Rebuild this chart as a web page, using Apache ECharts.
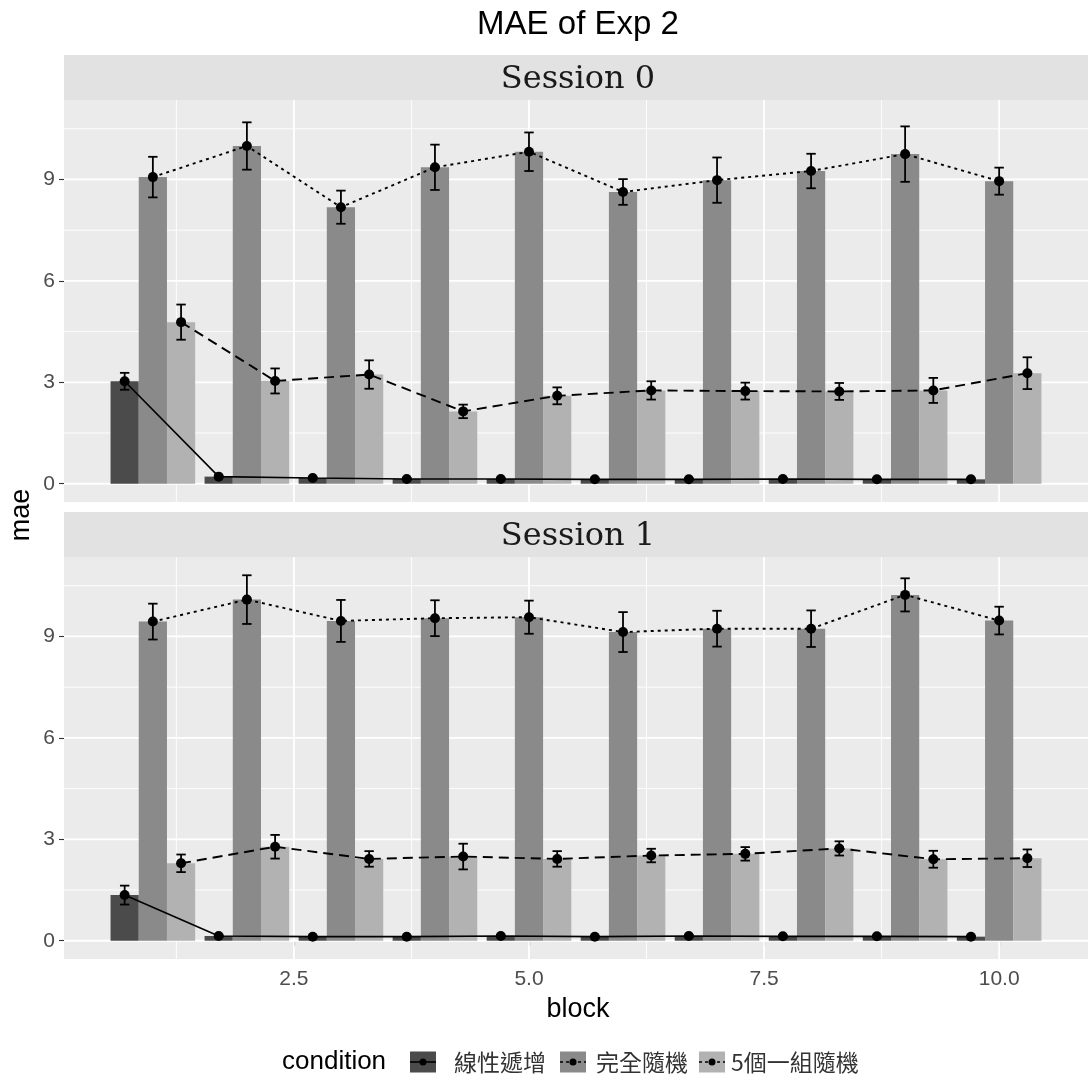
<!DOCTYPE html>
<html>
<head>
<meta charset="utf-8">
<script src="https://cdn.jsdelivr.net/npm/echarts@6/dist/echarts.min.js"></script>
<style>
html, body { margin: 0; padding: 0; background: #ffffff; }
#chart { width: 1088px; height: 1085px; }
</style>
</head>
<body>
<div id="chart"></div>
<script>
// ---- data ----
const blocks = [1, 2, 3, 4, 5, 6, 7, 8, 9, 10];
const conditions = ['線性遞增', '完全隨機', '5個一組隨機'];
const sessions = ['Session 0', 'Session 1'];

// Session 0
const s0Linear   = [3.03, 0.21, 0.17, 0.14, 0.14, 0.13, 0.13, 0.14, 0.13, 0.13];
const s0LinearSe = [0.25, 0.02, 0.02, 0.02, 0.02, 0.02, 0.02, 0.02, 0.02, 0.02];
const s0Random   = [9.07, 9.99, 8.18, 9.36, 9.82, 8.63, 8.98, 9.25, 9.75, 8.95];
const s0RandomSe = [0.60, 0.70, 0.49, 0.67, 0.57, 0.38, 0.67, 0.51, 0.82, 0.40];
const s0Group    = [4.78, 3.04, 3.23, 2.14, 2.60, 2.76, 2.74, 2.73, 2.76, 3.27];
const s0GroupSe  = [0.52, 0.37, 0.42, 0.20, 0.25, 0.27, 0.25, 0.25, 0.37, 0.47];

// Session 1
const s1Linear   = [1.35, 0.14, 0.12, 0.12, 0.14, 0.12, 0.14, 0.13, 0.13, 0.12];
const s1LinearSe = [0.28, 0.02, 0.02, 0.02, 0.02, 0.02, 0.02, 0.02, 0.02, 0.02];
const s1Random   = [9.44, 10.09, 9.46, 9.54, 9.57, 9.13, 9.23, 9.23, 10.23, 9.47];
const s1RandomSe = [0.53, 0.72, 0.62, 0.53, 0.49, 0.59, 0.53, 0.54, 0.49, 0.41];
const s1Group    = [2.29, 2.78, 2.42, 2.49, 2.42, 2.52, 2.57, 2.73, 2.41, 2.44];
const s1GroupSe  = [0.26, 0.35, 0.23, 0.38, 0.23, 0.20, 0.20, 0.21, 0.25, 0.26];

// axis breaks
const xTicks = [2.5, 5, 7.5, 10];
const xMinorTicks = [1.25, 3.75, 6.25, 8.75];
const yTicks = [0, 3, 6, 9];
const yMinorTicks = [1.5, 4.5, 7.5, 10.5];

// ---- styling / layout ----
const fills = ['#4b4b4b', '#8a8a8a', '#b2b2b2'];
const lineDashes = [null, [3, 4], [10, 6]];
const lineWidths = [1.6, 1.9, 1.9];
const dodge = [-0.3, 0, 0.3];
const barHalf = 0.15;
const capHalf = 0.05;

const SANS = '"Liberation Sans", Arial, sans-serif';
const SERIF = '"DejaVu Serif", "Liberation Serif", serif';
const CJK = '"Noto Sans CJK TC", "Noto Sans CJK SC", sans-serif';

const panelLeft = 64, panelWidth = 1030, panelHeight = 402;
const panelTops = [100, 557];
const stripH = 45;

const sessionData = [
  { means: [s0Linear, s0Random, s0Group], ses: [s0LinearSe, s0RandomSe, s0GroupSe] },
  { means: [s1Linear, s1Random, s1Group], ses: [s1LinearSe, s1RandomSe, s1GroupSe] }
];

// scale limits with 5% expansion, shared across both panels
let yTop = 0;
sessionData.forEach(s => s.means.forEach((m, c) => m.forEach((v, i) => {
  yTop = Math.max(yTop, v + s.ses[c][i]);
})));
const yPad = yTop * 0.05;
const yMin = -yPad, yMax = yTop + yPad;
const xLo = blocks[0] + dodge[0] - barHalf, xHi = blocks[blocks.length - 1] + dodge[2] + barHalf;
const xPad = (xHi - xLo) * 0.05;
const xMin = xLo - xPad, xMax = xHi + xPad;

// ---- axes / grids ----
const grids = [], xAxes = [], yAxes = [], series = [];

panelTops.forEach((top, p) => {
  const isBottom = p === panelTops.length - 1;
  grids.push({
    left: panelLeft, top: top, width: panelWidth, height: panelHeight,
    show: true, backgroundColor: '#ebebeb', borderWidth: 0, containLabel: false
  });
  xAxes.push({
    type: 'value', gridIndex: p, min: xMin, max: xMax,
    axisLine: { show: false },
    splitLine: { show: false },
    axisTick: { show: isBottom, customValues: xTicks, length: 5, lineStyle: { color: '#333333', width: 1.1 } },
    axisLabel: { show: isBottom, customValues: xTicks, formatter: v => v.toFixed(1),
                 color: '#4d4d4d', fontSize: 21, fontFamily: SANS, margin: 10 }
  });
  yAxes.push({
    type: 'value', gridIndex: p, min: yMin, max: yMax,
    axisLine: { show: false },
    splitLine: { show: false },
    axisTick: { show: true, customValues: yTicks, length: 5, lineStyle: { color: '#333333', width: 1.1 } },
    axisLabel: { show: true, customValues: yTicks, color: '#4d4d4d', fontSize: 21, fontFamily: SANS, margin: 9 }
  });

  // panel grid lines
  const gridLine = (vals, horizontal, width) => ({
    type: 'custom', xAxisIndex: p, yAxisIndex: p, z: 1, silent: true, animation: false,
    data: vals.map(v => [v]),
    renderItem: (params, api) => {
      const cs = params.coordSys;
      const v = api.value(0);
      let shape;
      if (horizontal) {
        const y = api.coord([xMin, v])[1];
        shape = { x1: cs.x, y1: y, x2: cs.x + cs.width, y2: y };
      } else {
        const x = api.coord([v, yMin])[0];
        shape = { x1: x, y1: cs.y, x2: x, y2: cs.y + cs.height };
      }
      return { type: 'line', shape: shape, style: { stroke: '#ffffff', lineWidth: width } };
    }
  });
  series.push(gridLine(yMinorTicks, true, 0.9));
  series.push(gridLine(xMinorTicks, false, 0.9));
  series.push(gridLine(yTicks, true, 1.8));
  series.push(gridLine(xTicks, false, 1.8));

  const sd = sessionData[p];
  conditions.forEach((name, c) => {
    const means = sd.means[c], ses = sd.ses[c];
    // bars
    series.push({
      type: 'custom', name: name, xAxisIndex: p, yAxisIndex: p, z: 2, animation: false,
      data: blocks.map((b, i) => [b + dodge[c], means[i]]),
      renderItem: (params, api) => {
        const x = api.value(0), y = api.value(1);
        const a = api.coord([x - barHalf, y]);
        const b = api.coord([x + barHalf, 0]);
        return { type: 'rect', shape: { x: a[0], y: a[1], width: b[0] - a[0], height: b[1] - a[1] },
                 style: { fill: fills[c] } };
      }
    });
    // error bars
    series.push({
      type: 'custom', xAxisIndex: p, yAxisIndex: p, z: 3, animation: false,
      data: blocks.map((b, i) => [b + dodge[c], means[i] - ses[i], means[i] + ses[i]]),
      renderItem: (params, api) => {
        const x = api.value(0), lo = api.value(1), hi = api.value(2);
        const pLo = api.coord([x, lo]), pHi = api.coord([x, hi]);
        const cl = api.coord([x - capHalf, lo])[0], cr = api.coord([x + capHalf, lo])[0];
        const st = { stroke: '#000000', lineWidth: 1.8 };
        return { type: 'group', children: [
          { type: 'line', shape: { x1: pLo[0], y1: pLo[1], x2: pHi[0], y2: pHi[1] }, style: st },
          { type: 'line', shape: { x1: cl, y1: pLo[1], x2: cr, y2: pLo[1] }, style: st },
          { type: 'line', shape: { x1: cl, y1: pHi[1], x2: cr, y2: pHi[1] }, style: st }
        ] };
      }
    });
    // means: line + points
    series.push({
      type: 'line', xAxisIndex: p, yAxisIndex: p, z: 4, animation: false,
      data: blocks.map((b, i) => [b + dodge[c], means[i]]),
      symbol: 'circle', symbolSize: 10, showSymbol: true,
      itemStyle: { color: '#000000' },
      lineStyle: { color: '#000000', width: lineWidths[c], type: lineDashes[c] || 'solid' }
    });
  });
});

// ---- text and decorations ----
const graphics = [];
const centerX = panelLeft + panelWidth / 2;

graphics.push({ type: 'text', x: 578, y: 25, style: {
  text: 'MAE of Exp 2', font: '33px ' + SANS, fill: '#000000', textAlign: 'center', textVerticalAlign: 'middle' } });

panelTops.forEach((top, p) => {
  graphics.push({ type: 'rect', shape: { x: panelLeft, y: top - stripH, width: panelWidth, height: stripH },
                  style: { fill: '#e2e2e2' } });
  graphics.push({ type: 'text', x: centerX - 1, y: top - stripH + 25, style: {
    text: sessions[p], font: '32px ' + SERIF, fill: '#1a1a1a', textAlign: 'center', textVerticalAlign: 'middle' } });
});

graphics.push({ type: 'text', x: 578, y: 1010, style: {
  text: 'block', font: '27px ' + SANS, fill: '#000000', textAlign: 'center', textVerticalAlign: 'middle' } });
graphics.push({ type: 'text', x: 22, y: 515, rotation: Math.PI / 2, style: {
  text: 'mae', font: '27px ' + SANS, fill: '#000000', textAlign: 'center', textVerticalAlign: 'middle' } });

// legend
const legY = 1062;
graphics.push({ type: 'text', x: 282, y: legY, style: {
  text: 'condition', font: '26px ' + SANS, fill: '#000000', textAlign: 'left', textVerticalAlign: 'middle' } });
const keyX = [410, 560, 699];
const labelX = [454, 596, 731];
const keyW = 26, keyH = 21;
conditions.forEach((name, c) => {
  const kx = keyX[c];
  graphics.push({ type: 'rect', shape: { x: kx, y: legY - keyH / 2, width: keyW, height: keyH },
                  style: { fill: fills[c] } });
  graphics.push({ type: 'line', shape: { x1: kx, y1: legY, x2: kx + keyW, y2: legY },
                  style: { stroke: '#000000', lineWidth: 1.6, lineDash: lineDashes[c] ? [3, 3] : null } });
  graphics.push({ type: 'circle', shape: { cx: kx + keyW / 2, cy: legY, r: 3.5 }, style: { fill: '#000000' } });
  graphics.push({ type: 'text', x: labelX[c], y: legY, style: {
    text: name, font: '23px ' + CJK, fill: '#333333', textAlign: 'left', textVerticalAlign: 'middle' } });
});

const chart = echarts.init(document.getElementById('chart'), null, { renderer: 'canvas' });
chart.setOption({
  backgroundColor: '#ffffff',
  animation: false,
  grid: grids,
  xAxis: xAxes,
  yAxis: yAxes,
  series: series,
  graphic: graphics
});
</script>
</body>
</html>
